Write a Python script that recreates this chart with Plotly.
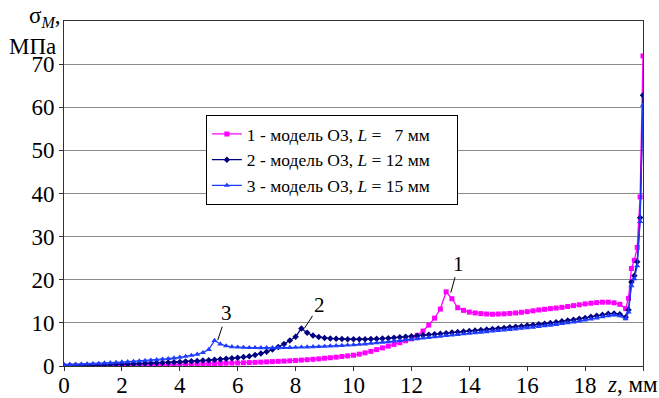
import plotly.graph_objects as go

Z = [0.0, 0.2, 0.4, 0.6, 0.8, 1.0, 1.2, 1.4, 1.6, 1.8,
     2.0, 2.2, 2.4, 2.6, 2.8, 3.0, 3.2, 3.4, 3.6, 3.8,
     4.0, 4.2, 4.4, 4.6, 4.8, 5.0, 5.2, 5.4, 5.6, 5.8,
     6.0, 6.2, 6.4, 6.6, 6.8, 7.0, 7.2, 7.4, 7.6, 7.8,
     8.0, 8.2, 8.4, 8.6, 8.8, 9.0, 9.2, 9.4, 9.6, 9.8,
     10.0, 10.2, 10.4, 10.6, 10.8, 11.0, 11.2, 11.4, 11.6, 11.8,
     12.0, 12.2, 12.4, 12.6, 12.8, 13.0, 13.2, 13.4, 13.6, 13.8,
     14.0, 14.2, 14.4, 14.6, 14.8, 15.0, 15.2, 15.4, 15.6, 15.8,
     16.0, 16.2, 16.4, 16.6, 16.8, 17.0, 17.2, 17.4, 17.6, 17.8,
     18.0, 18.2, 18.4, 18.6, 18.8, 19.0, 19.2, 19.4,
     19.5, 19.6, 19.7, 19.8, 19.9, 20.0]

S1 = [0.00, 0.01, 0.02, 0.03, 0.04, 0.05, 0.06, 0.07, 0.08, 0.09,
      0.10, 0.12, 0.14, 0.16, 0.18, 0.20, 0.23, 0.26, 0.29, 0.32,
      0.35, 0.38, 0.41, 0.45, 0.49, 0.52, 0.56, 0.60, 0.64, 0.67,
      0.70, 0.74, 0.79, 0.84, 0.90, 0.96, 1.02, 1.08, 1.14, 1.20,
      1.28, 1.37, 1.46, 1.55, 1.65, 1.80, 1.92, 2.05, 2.20, 2.35,
      2.50, 2.75, 3.05, 3.40, 3.80, 4.20, 4.60, 5.00, 5.40, 5.85,
      6.30, 7.10, 8.10, 9.50, 11.1, 13.2, 17.2, 15.6, 13.5, 12.9,
      12.5, 12.3, 12.15, 12.05, 12.0, 12.05, 12.1, 12.2, 12.3, 12.45,
      12.6, 12.8, 13.0, 13.15, 13.3, 13.45, 13.6, 13.8, 14.0, 14.2,
      14.4, 14.55, 14.7, 14.8, 14.8, 14.65, 14.3, 13.3,
      15.7, 22.6, 24.5, 27.5, 39.2, 71.9]

S2 = [0.10, 0.12, 0.14, 0.17, 0.20, 0.23, 0.26, 0.30, 0.34, 0.38,
      0.42, 0.46, 0.50, 0.55, 0.60, 0.65, 0.70, 0.76, 0.82, 0.88,
      0.95, 1.02, 1.10, 1.18, 1.27, 1.36, 1.46, 1.57, 1.68, 1.80,
      1.93, 2.08, 2.25, 2.55, 2.90, 3.30, 3.80, 4.40, 5.10, 5.90,
      6.80, 8.70, 7.70, 7.05, 6.70, 6.50, 6.40, 6.30, 6.25, 6.20,
      6.20, 6.20, 6.22, 6.25, 6.30, 6.36, 6.45, 6.55, 6.66, 6.78,
      6.90, 7.02, 7.14, 7.26, 7.38, 7.50, 7.62, 7.74, 7.86, 7.98,
      8.10, 8.22, 8.34, 8.46, 8.58, 8.70, 8.83, 8.96, 9.10, 9.24,
      9.38, 9.52, 9.66, 9.82, 9.98, 10.15, 10.35, 10.55, 10.75, 10.95,
      11.15, 11.40, 11.65, 11.90, 12.10, 12.20, 12.00, 11.30,
      13.0, 19.5, 20.9, 24.2, 34.4, 62.8]

S3 = [0.30, 0.34, 0.38, 0.43, 0.48, 0.54, 0.60, 0.67, 0.74, 0.82,
      0.90, 0.98, 1.06, 1.15, 1.24, 1.34, 1.45, 1.57, 1.70, 1.85,
      2.02, 2.22, 2.45, 2.72, 3.10, 3.80, 5.90, 5.10, 4.65, 4.45,
      4.35, 4.30, 4.26, 4.24, 4.22, 4.22, 4.22, 4.23, 4.25, 4.28,
      4.31, 4.35, 4.39, 4.44, 4.49, 4.55, 4.61, 4.68, 4.75, 4.83,
      4.91, 5.00, 5.10, 5.22, 5.35, 5.48, 5.62, 5.76, 5.90, 6.04,
      6.18, 6.32, 6.46, 6.60, 6.74, 6.88, 7.02, 7.16, 7.30, 7.44,
      7.58, 7.70, 7.82, 7.94, 8.06, 8.18, 8.31, 8.44, 8.57, 8.70,
      8.84, 8.98, 9.12, 9.28, 9.44, 9.60, 9.80, 10.00, 10.20, 10.42,
      10.64, 10.88, 11.12, 11.40, 11.65, 11.80, 11.60, 10.90,
      12.5, 18.6, 20.2, 23.2, 33.5, 60.5]

PAD = "\u00a0" * 5 + "\u200b"
NAMES = ["1 - модель О3, <i>L</i> =\u00a0\u00a0\u00a07 мм" + PAD,
         "2 - модель О3, <i>L</i> = 12 мм" + PAD,
         "3 - модель О3, <i>L</i> = 15 мм" + PAD]
X_TICKS = [0, 2, 4, 6, 8, 10, 12, 14, 16, 18, 20]
X_TICK_TEXT = ["0", "2", "4", "6", "8", "10", "12", "14", "16", "18", ""]
Y_TICKS = [0, 10, 20, 30, 40, 50, 60, 70]

SERIF = "Liberation Serif"

fig = go.Figure()
styles = [("#FF00FF", "square", 5), ("#000080", "diamond", 5), ("#1E3CFF", "triangle-up", 5.5)]
for ys, name, (col, sym, sz) in zip([S1, S2, S3], NAMES, styles):
    fig.add_trace(go.Scatter(
        x=Z, y=ys, name=name, mode="lines+markers",
        line=dict(color=col, width=1.3),
        marker=dict(color=col, symbol=sym, size=sz, line=dict(width=0)),
    ))

fig.update_layout(
    width=659, height=398,
    margin=dict(l=64, r=16, t=21, b=32),
    paper_bgcolor="white", plot_bgcolor="white",
    font=dict(family=SERIF, size=23, color="black"),
    showlegend=True,
    legend=dict(
        x=0.245, y=0.7275, xanchor="left", yanchor="top",
        bgcolor="white", bordercolor="black", borderwidth=1,
        font=dict(family=SERIF, size=17.5, color="black"),
        tracegroupgap=0, itemwidth=30,
    ),
    xaxis=dict(
        range=[0, 20], tickvals=X_TICKS, ticktext=X_TICK_TEXT,
        showgrid=False, zeroline=False, automargin=False,
        showline=True, linecolor="#333", linewidth=1, mirror=True,
        ticks="outside", ticklen=4, tickcolor="#333",
        ticklabelstandoff=-6,
        tickfont=dict(family=SERIF, size=23, color="black"),
    ),
    yaxis=dict(
        range=[0, 80], tickvals=Y_TICKS, automargin=False,
        showgrid=True, gridcolor="#8a8a8a", gridwidth=1, zeroline=False,
        showline=True, linecolor="#333", linewidth=1, mirror=True,
        ticks="outside", ticklen=4, tickcolor="#333",
        tickfont=dict(family=SERIF, size=23, color="black"),
    ),
)

labels = [("1", 13.36, 17.0, 8, -29), ("2", 8.31, 8.8, 15, -23), ("3", 5.31, 6.0, 9, -27)]
for t, x, y, ax, ay in labels:
    fig.add_annotation(x=x, y=y, text=t, showarrow=True, arrowhead=0, arrowwidth=1,
                       arrowcolor="black", ax=ax, ay=ay,
                       font=dict(family=SERIF, size=21, color="black"), standoff=0)

fig.add_annotation(xref="paper", yref="paper", x=0.934, y=-0.055, xanchor="left", yanchor="middle",
                   text="<i>z</i>, мм", showarrow=False,
                   font=dict(family=SERIF, size=23, color="black"))
fig.add_annotation(xref="paper", yref="paper", x=-0.002, y=1.012, xanchor="right", yanchor="middle",
                   text="σ<i><sub>M</sub></i>,", showarrow=False,
                   font=dict(family=SERIF, size=23, color="black"))
fig.add_annotation(xref="paper", yref="paper", x=-0.011, y=0.925, xanchor="right", yanchor="middle",
                   text="МПа", showarrow=False,
                   font=dict(family=SERIF, size=23, color="black"))

fig.write_html("out.html")
